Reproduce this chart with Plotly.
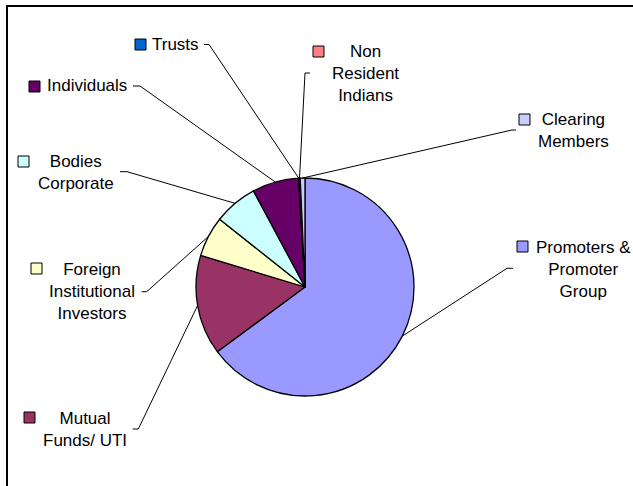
import math
import plotly.graph_objects as go

W, H = 633, 486

categories = ["Promoters & Promoter Group", "Mutual Funds/ UTI", "Foreign Institutional Investors",
              "Bodies Corporate", "Individuals", "Trusts", "Non Resident Indians", "Clearing Members"]
shares = [64.9, 14.8, 6.0, 6.5, 6.9, 0.03, 0.2, 0.7]
colors = ["#9999FF", "#993366", "#FFFFCC", "#CCFFFF", "#660066", "#0066CC", "#FF8080", "#CCCCFF"]
label_text = ["Promoters &<br>Promoter<br>Group", "Mutual<br>Funds/ UTI", "Foreign<br>Institutional<br>Investors",
              "Bodies<br>Corporate", "Individuals", "Trusts", "Non<br>Resident<br>Indians", "Clearing<br>Members"]

# layout (pixel) for pie and labels
CX, CY, R = 305, 287, 109
# label: (text x, text y, anchor, key x0, key y0, leader start x, elbow x, leader y)
label_layout = [
    (583, 269.3, "center", 517, 241, 513, 507, 268.3),
    (85.3, 429.7, "center", 24, 412, 132.7, 138.3, 429),
    (92, 291.3, "center", 31, 263, 141.7, 146.7, 291.7),
    (75.5, 172.4, "center", 18, 156, 120, 127, 171.7),
    (45, 86, "left", 29, 81, 133, 140, 86),
    (150, 44.5, "left", 135, 39, 204, 209, 44.5),
    (365.5, 73.7, "center", 313, 46, 310, 305, 73),
    (573, 130.4, "center", 519, 114, 516, 512, 130),
]

def px(x):
    return x / W

def py(y):
    return 1 - y / H

fig = go.Figure(go.Pie(
    labels=categories, values=shares, sort=False, direction="clockwise", rotation=0,
    marker=dict(colors=colors, line=dict(color="black", width=1.3)),
    textinfo="none", hoverinfo="label+percent", showlegend=False,
    domain=dict(x=[px(CX - R), px(CX + R)], y=[py(CY + R), py(CY - R)]),
))

shapes = []
annotations = []
total = sum(shares)
cum = 0.0
for i, v in enumerate(shares):
    mid = (cum + v / 2) / total * 2 * math.pi
    cum += v
    ex = CX + R * math.sin(mid)
    ey = CY - R * math.cos(mid)
    tx, ty, anc, kx, ky, lx, elx, ly = label_layout[i]
    shapes.append(dict(type="path", xref="paper", yref="paper",
                       path=f"M {px(lx)} {py(ly)} L {px(elx)} {py(ly)} L {px(ex)} {py(ey)}",
                       line=dict(color="black", width=1)))
    shapes.append(dict(type="rect", xref="paper", yref="paper",
                       x0=px(kx), x1=px(kx + 11), y0=py(ky + 11), y1=py(ky),
                       fillcolor=colors[i], line=dict(color="black", width=1)))
    annotations.append(dict(text=label_text[i], x=px(tx), y=py(ty), xref="paper", yref="paper",
                            xanchor=anc, yanchor="middle", showarrow=False, align="center",
                            font=dict(family="Liberation Sans, Arial", size=17, color="black")))

# chart frame
shapes.append(dict(type="rect", xref="paper", yref="paper", x0=px(7), x1=1.02, y0=-0.02, y1=py(6),
                   line=dict(color="black", width=2), fillcolor="rgba(0,0,0,0)"))

fig.update_layout(width=W, height=H, margin=dict(l=0, r=0, t=0, b=0),
                  paper_bgcolor="white", plot_bgcolor="white",
                  shapes=shapes, annotations=annotations)

fig.write_html("out.html")
